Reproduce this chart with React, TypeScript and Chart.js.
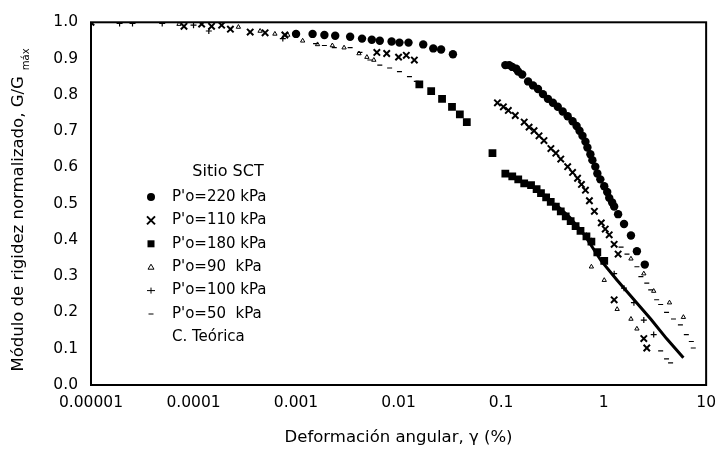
import React, { useEffect, useRef } from 'react';
import { Chart, registerables } from 'chart.js';

Chart.register(...registerables);

// ---------- text ----------
const X_TITLE = 'Deformación angular, γ (%)';
const Y_TITLE = 'Módulo de rigidez normalizado, G/G';
const Y_TITLE_SUB = 'máx';
const LEGEND_TITLE = 'Sitio SCT';
const SERIES_NAMES = [
  "P'o=220 kPa",
  "P'o=110 kPa",
  "P'o=180 kPa",
  "P'o=90  kPa",
  "P'o=100 kPa",
  "P'o=50  kPa",
  'C. Teórica',
];

// ---------- ticks ----------
const X_TICKS = [0.00001, 0.0001, 0.001, 0.01, 0.1, 1, 10];
const X_TICK_LABELS = ['0.00001', '0.0001', '0.001', '0.01', '0.1', '1', '10'];
const Y_TICKS = [0, 0.1, 0.2, 0.3, 0.4, 0.5, 0.6, 0.7, 0.8, 0.9, 1.0];
const Y_TICK_LABELS = ['0.0', '0.1', '0.2', '0.3', '0.4', '0.5', '0.6', '0.7', '0.8', '0.9', '1.0'];

// ---------- data: [strain %, G/Gmax] ----------
const P220: [number, number][] = [
  [0.001, 0.968], [0.00145, 0.968], [0.00189, 0.965], [0.00241, 0.963], [0.00337, 0.96],
  [0.0044, 0.955], [0.00548, 0.952], [0.00656, 0.949], [0.00855, 0.947], [0.0102, 0.944],
  [0.0125, 0.944], [0.0174, 0.939], [0.0218, 0.928], [0.026, 0.925], [0.0339, 0.912],
  [0.11, 0.882], [0.12, 0.882], [0.1285, 0.877], [0.1406, 0.872], [0.147, 0.864],
  [0.1606, 0.856], [0.1834, 0.837], [0.205, 0.826], [0.229, 0.816], [0.256, 0.802],
  [0.286, 0.789], [0.32, 0.778], [0.357, 0.767], [0.399, 0.754], [0.446, 0.741],
  [0.498, 0.727], [0.545, 0.714], [0.582, 0.701], [0.622, 0.687], [0.665, 0.671],
  [0.695, 0.655], [0.743, 0.636], [0.777, 0.62], [0.83, 0.602], [0.869, 0.583],
  [0.929, 0.567], [1.014, 0.548], [1.084, 0.532], [1.134, 0.516], [1.212, 0.503],
  [1.267, 0.492], [1.385, 0.471], [1.582, 0.444], [1.848, 0.412], [2.112, 0.369],
  [2.522, 0.332],
];

const P110: [number, number][] = [
  [0.00001, 1.0], [0.0000807, 0.989], [0.00012, 0.995], [0.00015, 0.989], [0.000188, 0.992],
  [0.000229, 0.981], [0.000357, 0.973], [0.000499, 0.971], [0.000778, 0.965],
  [0.00614, 0.917], [0.00766, 0.914], [0.01, 0.904], [0.0119, 0.909], [0.01425, 0.896],
  [0.0921, 0.778], [0.1053, 0.767], [0.1177, 0.757], [0.1375, 0.743], [0.168, 0.725],
  [0.1875, 0.711], [0.2097, 0.701], [0.2344, 0.687], [0.262, 0.674], [0.306, 0.652],
  [0.342, 0.639], [0.382, 0.623], [0.446, 0.602], [0.498, 0.586], [0.557, 0.57],
  [0.608, 0.553], [0.665, 0.537], [0.727, 0.508], [0.813, 0.479], [0.949, 0.447],
  [1.037, 0.43], [1.134, 0.414], [1.267, 0.388], [1.385, 0.361], [1.267, 0.235],
  [2.466, 0.128], [2.637, 0.102],
];

const P180: [number, number][] = [
  [0.01594, 0.829], [0.0208, 0.81], [0.02656, 0.789], [0.0332, 0.767], [0.0396, 0.746],
  [0.0463, 0.725], [0.0824, 0.639], [0.11, 0.583], [0.1285, 0.575], [0.147, 0.567],
  [0.168, 0.556], [0.196, 0.551], [0.222, 0.54], [0.245, 0.529], [0.275, 0.517],
  [0.305, 0.505], [0.342, 0.492], [0.382, 0.479], [0.427, 0.465], [0.477, 0.452],
  [0.533, 0.438], [0.595, 0.425], [0.68, 0.41], [0.76, 0.395], [0.868, 0.366],
  [1.014, 0.342],
];

const P90: [number, number][] = [
  [0.0000722, 0.995], [0.000274, 0.987], [0.000446, 0.976], [0.000622, 0.968], [0.000831, 0.965],
  [0.00116, 0.949], [0.00162, 0.939], [0.00226, 0.936], [0.00294, 0.93], [0.00411, 0.914],
  [0.00491, 0.904], [0.00574, 0.896],
  [0.76, 0.326], [1.014, 0.289], [1.355, 0.209], [1.848, 0.182], [2.112, 0.155],
  [1.848, 0.348], [2.466, 0.307], [3.08, 0.259], [4.39, 0.227], [6.0, 0.187],
];

const P100: [number, number][] = [
  [0.000019, 0.997], [0.0000254, 0.997], [0.0000495, 0.997], [0.0001, 0.992], [0.000141, 0.976],
  [0.000743, 0.955],
  [0.245, 0.529], [0.2735, 0.519], [0.305, 0.505], [0.342, 0.492], [0.382, 0.479],
  [0.4266, 0.465], [0.4766, 0.452], [0.5326, 0.4385], [0.595, 0.425], [0.68, 0.412],
  [0.76, 0.398], [0.868, 0.366], [1.014, 0.342], [1.267, 0.307], [1.582, 0.267],
  [1.975, 0.227], [2.466, 0.179], [3.08, 0.139],
];

const P50: [number, number][] = [
  [0.00155, 0.941], [0.00189, 0.936], [0.00236, 0.93], [0.00337, 0.93], [0.0042, 0.917],
  [0.00525, 0.896], [0.00656, 0.882], [0.00818, 0.874], [0.0102, 0.864], [0.01277, 0.85],
  [0.0149, 0.837],
  [1.48, 0.38], [1.69, 0.361], [2.112, 0.326], [2.31, 0.299], [2.637, 0.281],
  [2.88, 0.262], [3.29, 0.235], [3.6, 0.222], [4.11, 0.2005], [4.8, 0.182],
  [5.61, 0.166], [6.41, 0.139], [7.17, 0.12], [7.49, 0.102], [3.6, 0.094],
  [4.11, 0.072], [4.5, 0.061],
];

const THEORY: [number, number][] = [
  [0.334, 0.5], [0.467, 0.4626], [0.65, 0.414], [0.948, 0.342], [1.355, 0.289],
  [1.98, 0.235], [2.88, 0.182], [4.11, 0.128], [6.0, 0.075],
];

const FONT = '"DejaVu Sans", sans-serif';
const toPts = (arr: [number, number][]) => arr.map(([x, y]) => ({ x, y }));

const drawMarker = (ctx: CanvasRenderingContext2D, kind: number, x: number, y: number) => {
  ctx.save();
  ctx.fillStyle = '#000';
  ctx.strokeStyle = '#000';
  ctx.beginPath();
  switch (kind) {
    case 0:
      ctx.arc(x, y, 4, 0, Math.PI * 2);
      ctx.fill();
      break;
    case 1:
      ctx.lineWidth = 2;
      ctx.moveTo(x - 4, y - 4); ctx.lineTo(x + 4, y + 4);
      ctx.moveTo(x + 4, y - 4); ctx.lineTo(x - 4, y + 4);
      ctx.stroke();
      break;
    case 2:
      ctx.fillRect(x - 3.5, y - 3.5, 7, 7);
      break;
    case 3:
      ctx.lineWidth = 1;
      ctx.moveTo(x, y - 3); ctx.lineTo(x + 3, y + 2); ctx.lineTo(x - 3, y + 2); ctx.closePath();
      ctx.stroke();
      break;
    case 4:
      ctx.lineWidth = 1;
      ctx.moveTo(x - 4, y); ctx.lineTo(x + 4, y);
      ctx.moveTo(x, y - 3); ctx.lineTo(x, y + 3);
      ctx.stroke();
      break;
    case 5:
      ctx.lineWidth = 1;
      ctx.moveTo(x - 2.5, y); ctx.lineTo(x + 2.5, y);
      ctx.stroke();
      break;
    default:
      break;
  }
  ctx.restore();
};

const overlayPlugin = {
  id: 'overlay',
  afterDraw(chart: any) {
    const { ctx, chartArea } = chart;
    const { left, top, right, bottom } = chartArea;
    ctx.save();
    // frame
    ctx.strokeStyle = '#000';
    ctx.lineWidth = 2;
    ctx.strokeRect(left, top, right - left, bottom - top);

    // y title with subscript
    ctx.save();
    ctx.fillStyle = '#000';
    ctx.translate(19, 210);
    ctx.rotate(-Math.PI / 2);
    ctx.textBaseline = 'middle';
    ctx.textAlign = 'left';
    ctx.font = `16.5px ${FONT}`;
    const w1 = ctx.measureText(Y_TITLE).width;
    ctx.font = `10px ${FONT}`;
    const w2 = ctx.measureText(Y_TITLE_SUB).width;
    const start = -(w1 + 6 + w2) / 2;
    ctx.font = `16.5px ${FONT}`;
    ctx.fillText(Y_TITLE, start, 0);
    ctx.font = `10px ${FONT}`;
    ctx.fillText(Y_TITLE_SUB, start + w1 + 6, 7);
    ctx.restore();

    // legend
    ctx.fillStyle = '#000';
    ctx.textBaseline = 'middle';
    ctx.textAlign = 'center';
    ctx.font = `16px ${FONT}`;
    ctx.fillText(LEGEND_TITLE, 228, 172);
    ctx.textAlign = 'left';
    ctx.font = `15px ${FONT}`;
    SERIES_NAMES.forEach((name, i) => {
      const y = 197 + i * 23.4;
      drawMarker(ctx, i, 151, y);
      ctx.fillText(name, 172, y);
    });
    ctx.restore();
  },
};

export default function App() {
  const ref = useRef<HTMLCanvasElement | null>(null);

  useEffect(() => {
    document.body.style.margin = '0';
    document.body.style.background = '#fff';
    const canvas = ref.current;
    if (!canvas) return;
    Chart.defaults.font.family = FONT;
    Chart.defaults.color = '#000';

    const chart = new Chart(canvas, {
      type: 'scatter',
      data: {
        datasets: [
          {
            label: SERIES_NAMES[0], data: toPts(P220), pointStyle: 'circle', pointRadius: 4.2,
            backgroundColor: '#000', borderColor: '#000', borderWidth: 0,
          },
          {
            label: SERIES_NAMES[1], data: toPts(P110), pointStyle: 'crossRot', pointRadius: 4.5,
            backgroundColor: '#000', borderColor: '#000', borderWidth: 2,
          },
          {
            label: SERIES_NAMES[2], data: toPts(P180), pointStyle: 'rect', pointRadius: 5.5,
            backgroundColor: '#000', borderColor: '#000', borderWidth: 0,
          },
          {
            label: SERIES_NAMES[3], data: toPts(P90), pointStyle: 'triangle', pointRadius: 2.5,
            backgroundColor: 'rgba(0,0,0,0)', borderColor: '#000', borderWidth: 1,
          },
          {
            label: SERIES_NAMES[4], data: toPts(P100), pointStyle: 'cross', pointRadius: 3,
            backgroundColor: '#000', borderColor: '#000', borderWidth: 1.2,
          },
          {
            label: SERIES_NAMES[5], data: toPts(P50), pointStyle: 'line', pointRadius: 2.5,
            backgroundColor: '#000', borderColor: '#000', borderWidth: 1.2,
          },
          {
            label: SERIES_NAMES[6], data: toPts(THEORY), showLine: true, pointRadius: 0,
            borderColor: '#000', backgroundColor: '#000', borderWidth: 3, tension: 0,
          },
        ],
      },
      options: {
        responsive: false,
        animation: false,
        events: [],
        layout: { padding: { top: 11, right: 12, left: 0, bottom: 0 } },
        plugins: { legend: { display: false }, tooltip: { enabled: false } },
        scales: {
          x: {
            type: 'logarithmic',
            min: 0.00001,
            max: 10,
            afterFit: (s: any) => { s.height = 71; },
            afterBuildTicks: (s: any) => { s.ticks = X_TICKS.map((v) => ({ value: v, major: true })); },
            grid: { display: false, drawTicks: false },
            border: { display: false },
            ticks: {
              padding: 9,
              maxRotation: 0,
              autoSkip: false,
              color: '#000',
              font: { size: 15.5, family: FONT },
              callback: (v: any) => {
                const i = X_TICKS.findIndex((t) => Math.abs(Math.log10(t) - Math.log10(Number(v))) < 1e-6);
                return i >= 0 ? X_TICK_LABELS[i] : '';
              },
            },
            title: {
              display: true,
              text: X_TITLE,
              color: '#000',
              font: { size: 16.5, family: FONT },
              padding: { top: 0, bottom: 8 },
            },
          },
          y: {
            type: 'linear',
            min: 0,
            max: 1,
            afterFit: (s: any) => { s.width = 91; },
            afterBuildTicks: (s: any) => { s.ticks = Y_TICKS.map((v) => ({ value: v })); },
            grid: { display: false, drawTicks: false },
            border: { display: false },
            ticks: {
              padding: 13,
              color: '#000',
              font: { size: 15.5, family: FONT },
              callback: (v: any) => {
                const i = Y_TICKS.findIndex((t) => Math.abs(t - Number(v)) < 1e-6);
                return i >= 0 ? Y_TICK_LABELS[i] : '';
              },
            },
          },
        },
      },
      plugins: [overlayPlugin],
    } as any);

    return () => chart.destroy();
  }, []);

  return <canvas ref={ref} width={725} height={456} style={{ display: 'block' }} />;
}
